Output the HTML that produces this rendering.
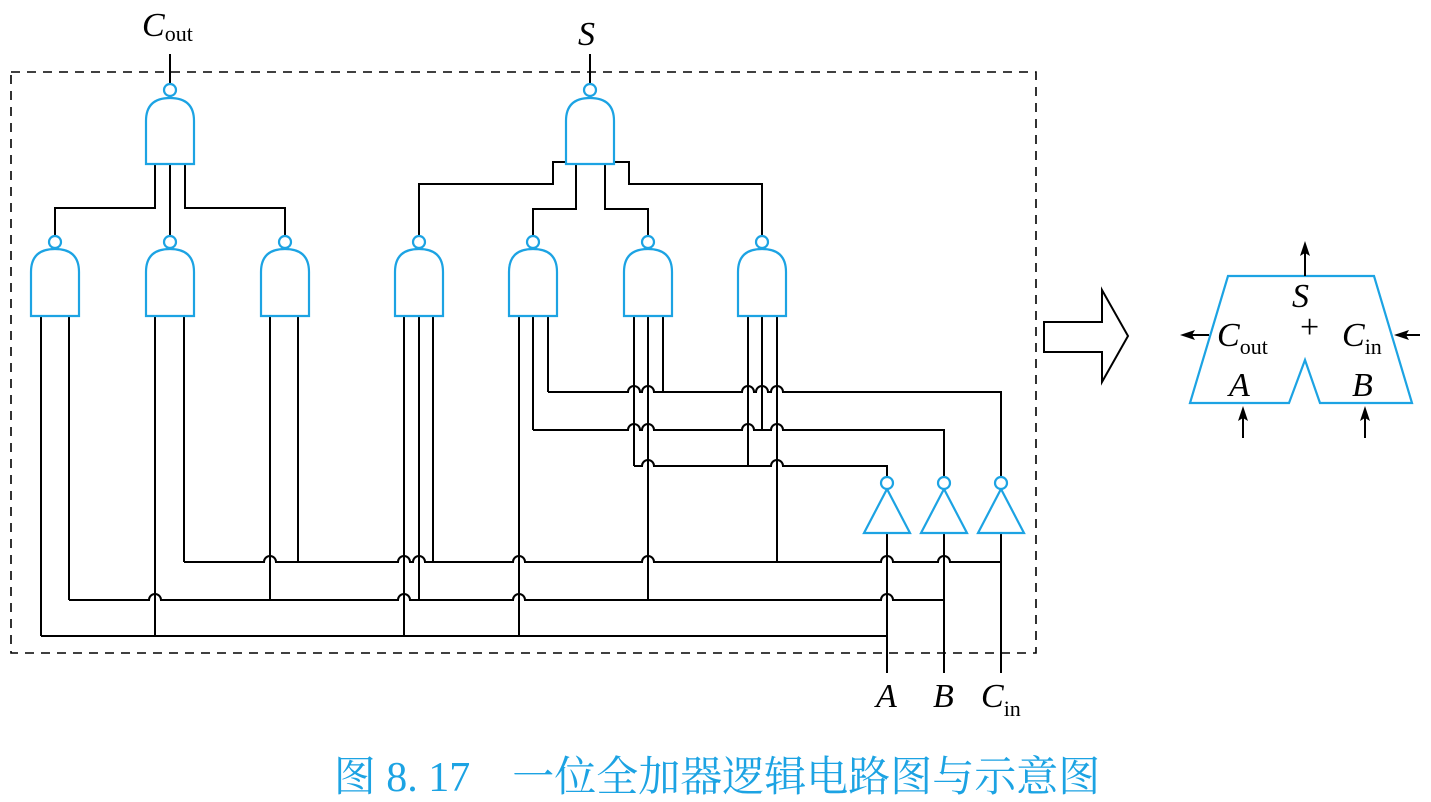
<!DOCTYPE html>
<html><head><meta charset="utf-8"><style>
html,body{margin:0;padding:0;background:#fff;}
svg{display:block;}
.w{fill:none;stroke:#000;stroke-width:2;}
.g{fill:#fff;stroke:#1ca3e3;stroke-width:2.2;}
.t{font-family:"Liberation Serif",serif;font-size:34px;fill:#000;}
.i{font-style:italic;}
.s{font-size:22px;font-style:normal;}
</style></head><body>
<svg width="1431" height="802" viewBox="0 0 1431 802" xmlns="http://www.w3.org/2000/svg">
<rect x="11" y="72" width="1025" height="581" fill="none" stroke="#000" stroke-width="1.6" stroke-dasharray="9,7"/>

<path class="w" d="M170 54V84M590 54V84"/>
<path class="w" d="M155 164V208H55V236M170 164V236M185 164V208H285V236"/>
<path class="w" d="M566 162H553V184H419V236M576 164V209H533V236M605 164V209H648V236M613 162H629V184H762V236"/>

<path class="w" d="M41 316V636M69 316V600M155 316V636M184 316V562M270 316V600M298 316V562M404 316V636M419 316V600M433 316V562M519 316V636M533 316V430M548 316V392M634 316V466M648 316V600M663 316V392M748 316V466M762 316V430M777 316V562"/>
<path class="w" d="M548 392H628a6 6 0 0 1 12 0H642a6 6 0 0 1 12 0H742a6 6 0 0 1 12 0H756a6 6 0 0 1 12 0H771a6 6 0 0 1 12 0H1001V477"/>
<path class="w" d="M533 430H628a6 6 0 0 1 12 0H642a6 6 0 0 1 12 0H742a6 6 0 0 1 12 0H771a6 6 0 0 1 12 0H944V477"/>
<path class="w" d="M634 466H642a6 6 0 0 1 12 0H771a6 6 0 0 1 12 0H887V477"/>
<path class="w" d="M184 562H264a6 6 0 0 1 12 0H398a6 6 0 0 1 12 0H413a6 6 0 0 1 12 0H513a6 6 0 0 1 12 0H642a6 6 0 0 1 12 0H881a6 6 0 0 1 12 0H938a6 6 0 0 1 12 0H1001"/>
<path class="w" d="M69 600H149a6 6 0 0 1 12 0H398a6 6 0 0 1 12 0H513a6 6 0 0 1 12 0H881a6 6 0 0 1 12 0H944"/>
<path class="w" d="M41 636H887"/>
<path class="w" d="M887 533V673M944 533V673M1001 533V673"/>

<path class="g" d="M146 164V121Q146 98 170 98Q194 98 194 121V164Z"/>
<circle class="g" cx="170" cy="90" r="6"/>
<path class="g" d="M566 164V121Q566 98 590 98Q614 98 614 121V164Z"/>
<circle class="g" cx="590" cy="90" r="6"/>

<g>
<path class="g" d="M31 316V272Q31 249 55 249Q79 249 79 272V316Z"/><circle class="g" cx="55" cy="242" r="6"/>
<path class="g" d="M146 316V272Q146 249 170 249Q194 249 194 272V316Z"/><circle class="g" cx="170" cy="242" r="6"/>
<path class="g" d="M261 316V272Q261 249 285 249Q309 249 309 272V316Z"/><circle class="g" cx="285" cy="242" r="6"/>
<path class="g" d="M395 316V272Q395 249 419 249Q443 249 443 272V316Z"/><circle class="g" cx="419" cy="242" r="6"/>
<path class="g" d="M509 316V272Q509 249 533 249Q557 249 557 272V316Z"/><circle class="g" cx="533" cy="242" r="6"/>
<path class="g" d="M624 316V272Q624 249 648 249Q672 249 672 272V316Z"/><circle class="g" cx="648" cy="242" r="6"/>
<path class="g" d="M738 316V272Q738 249 762 249Q786 249 786 272V316Z"/><circle class="g" cx="762" cy="242" r="6"/>
</g>

<path class="g" d="M887 489L864 533H910Z"/><circle class="g" cx="887" cy="483" r="6"/>
<path class="g" d="M944 489L921 533H967Z"/><circle class="g" cx="944" cy="483" r="6"/>
<path class="g" d="M1001 489L978 533H1024Z"/><circle class="g" cx="1001" cy="483" r="6"/>

<text class="t i" x="142" y="36">C<tspan class="s" dy="5">out</tspan></text>
<text class="t i" x="578" y="45">S</text>
<text class="t i" x="876" y="707">A</text>
<text class="t i" x="933" y="707">B</text>
<text class="t i" x="981" y="707">C<tspan class="s" dy="9">in</tspan></text>

<path d="M1044 322H1102V290L1128 336L1102 382V352H1044Z" fill="#fff" stroke="#000" stroke-width="2"/>

<path d="M1228 276H1374L1412 403H1320L1305 360L1289 403H1190Z" fill="#fff" stroke="#1ca3e3" stroke-width="2.2"/>
<g stroke="#000" stroke-width="2" fill="#000">
<line x1="1305" y1="276" x2="1305" y2="250"/><path d="M1305 241L1300 256L1305 253L1310 256Z" stroke="none"/>
<line x1="1209" y1="335" x2="1188" y2="335"/><path d="M1180 335L1195 330L1192 335L1195 340Z" stroke="none"/>
<line x1="1420" y1="335" x2="1402" y2="335"/><path d="M1394 335L1409 330L1406 335L1409 340Z" stroke="none"/>
<line x1="1243" y1="438" x2="1243" y2="414"/><path d="M1243 406L1238 421L1243 418L1248 421Z" stroke="none"/>
<line x1="1365" y1="438" x2="1365" y2="414"/><path d="M1365 406L1360 421L1365 418L1370 421Z" stroke="none"/>
</g>
<text class="t i" x="1292" y="307">S</text>
<text class="t" x="1300" y="338">+</text>
<text class="t i" x="1217" y="346">C<tspan class="s" dy="8">out</tspan></text>
<text class="t i" x="1342" y="346">C<tspan class="s" dy="8">in</tspan></text>
<text class="t i" x="1229" y="396">A</text>
<text class="t i" x="1352" y="396">B</text>

<text x="717" y="791" text-anchor="middle" font-family="'Liberation Serif','Noto Serif CJK SC',serif" font-size="42" fill="#1ca3e3">图 8. 17　一位全加器逻辑电路图与示意图</text>
</svg>
</body></html>
